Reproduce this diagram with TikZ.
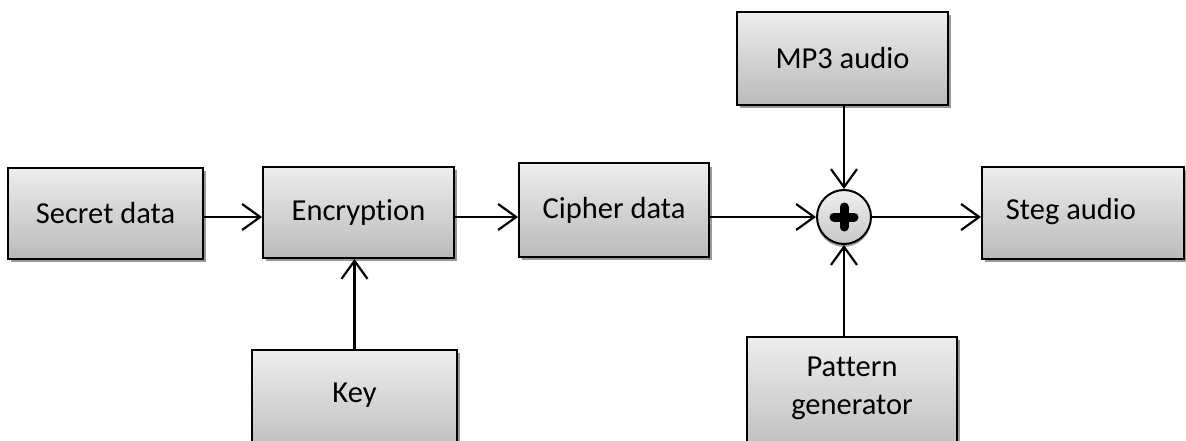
\documentclass[tikz,border=0pt]{standalone}
\usepackage{fontspec}
\setmainfont[Ligatures=NoCommon]{Carlito}
\usetikzlibrary{arrows.meta,shadows,calc}
\begin{document}
\begin{tikzpicture}[x=1pt,y=-1pt,
  blk/.style={draw=black, line width=2pt, rectangle, inner sep=0pt,
    top color=black!7, bottom color=black!27,
    drop shadow={shadow xshift=3pt, shadow yshift=-3pt, fill=black!40, opacity=1},
    font=\fontsize{30.5}{40}\selectfont, align=center},
  lbl/.style={font=\fontsize{30.5}{40}\selectfont, align=center},
  arr/.style={line width=2.2pt, -{Straight Barb[length=18pt,width=26pt,line width=2.2pt]}}]
\useasboundingbox (0,0) rectangle (1186,441);
\clip (0,0) rectangle (1186,441);

% processing blocks
\node[blk, minimum width=195pt, minimum height=91pt] (sec) at (105.5,213) {Secret data};
\node[blk, minimum width=191pt, minimum height=91pt] (enc) at (358.5,212.5) {Encryption};
\node[blk, minimum width=190pt, minimum height=93pt] (cip) at (614,210) {Cipher data};
\node[blk, minimum width=211pt, minimum height=93pt] (mp3) at (842.5,58.5) {MP3 audio};
\node[blk, minimum width=202pt, minimum height=92pt] (stg) at (1083,213) {};
\node[blk, minimum width=205pt, minimum height=110pt] (key) at (354.5,405) {};
\node[blk, minimum width=210pt, minimum height=123pt] (pat) at (852,398.5) {};
\node[lbl] (stgt) at (1071,212) {Steg audio};
\node[lbl] (keyt) at (354.5,395) {Key};
\node[lbl] (patt) at (852,388) {Pattern\\[-2pt]generator};

% summing junction
\node[circle, draw=black, line width=2pt, minimum size=54pt, inner sep=0pt,
  top color=black!6, bottom color=black!22,
  drop shadow={shadow xshift=0pt, shadow yshift=-3pt, fill=black!35, opacity=1}] (sum) at (844,217) {};
\draw[line width=9pt, line cap=round] ($(sum)+(-10,0)$) -- ($(sum)+(10,0)$);
\draw[line width=9pt, line cap=round] ($(sum)+(0,-10)$) -- ($(sum)+(0,10)$);

% connectors
\draw[arr] (sec.east |- sum) -- (enc.west |- sum);
\draw[arr] (enc.east |- sum) -- (cip.west |- sum);
\draw[arr] (cip.east |- sum) -- (sum.west);
\draw[arr] (sum.east) -- (stg.west |- sum);
\draw[arr] (mp3.south -| sum) -- (sum.north);
\draw[arr] (pat.north -| sum) -- (sum.south);
\draw[arr] (key.north) -- (key.north |- enc.south);
\end{tikzpicture}
\end{document}
